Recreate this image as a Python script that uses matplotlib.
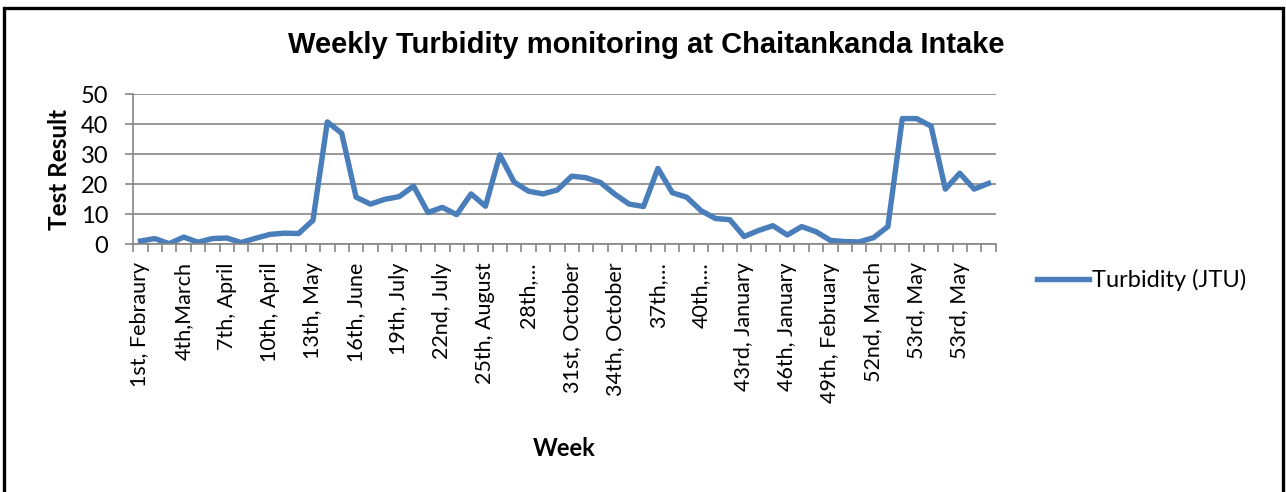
import matplotlib
matplotlib.use('Agg')
import matplotlib.pyplot as plt
from matplotlib.patches import Rectangle

weeks = list(range(60))
turbidity = [1.1, 1.9, 0.2, 2.4, 0.7, 1.9, 2.1, 0.6, 2.0, 3.3,
             3.7, 3.6, 8.0, 40.8, 37.0, 15.7, 13.4, 15.0, 15.9, 19.4,
             10.6, 12.3, 9.9, 16.8, 12.7, 29.8, 20.7, 17.7, 16.8, 18.1,
             22.7, 22.2, 20.6, 16.7, 13.4, 12.6, 25.3, 17.2, 15.7, 11.2,
             8.6, 8.2, 2.6, 4.6, 6.2, 3.1, 5.9, 4.2, 1.3, 0.9,
             0.8, 2.2, 5.9, 41.9, 41.9, 39.4, 18.4, 23.7, 18.4, 20.3]
label_pos = list(range(0, 60, 3))
week_labels = ['1st, Febraury', '4th,March', '7th, April', '10th, April', '13th, May',
               '16th, June', '19th, July', '22nd, July', '25th, August', '28th,\u2026',
               '31st, October', '34th, October', '37th,\u2026', '40th,\u2026', '43rd, January',
               '46th, January', '49th, February', '52nd, March', '53rd, May', '53rd, May']

W, H = 1286, 492
fig = plt.figure(figsize=(W / 100, H / 100), dpi=100)
fig.patches.append(Rectangle((3.5 / W, -0.05), 1279 / W, 1 - 7.5 / H + 0.05,
                             transform=fig.transFigure, fill=False,
                             edgecolor='black', linewidth=2.4))

ax = fig.add_axes([133.3 / W, 1 - 244.3 / H, 862.4 / W, 150 / H])
ax.plot(weeks, turbidity, color='#4A7EBB', linewidth=3.9,
        solid_joinstyle='round', label='Turbidity (JTU)')

gray = '#868686'
ax.set_xlim(-0.5, 59.5)
ax.set_ylim(0, 50)
ax.set_yticks(range(0, 51, 10))
ax.grid(axis='y', color=gray, linewidth=1.2)
ax.set_axisbelow(True)
for s in ['top', 'right']:
    ax.spines[s].set_visible(False)
for s in ['left', 'bottom']:
    ax.spines[s].set_color(gray)
    ax.spines[s].set_linewidth(1.2)

ax.set_xticks(label_pos)
ax.set_xticklabels(week_labels, rotation=90, fontsize=15.5, family='Lato')
ax.tick_params(axis='x', which='major', length=0, pad=13)
ax.set_xticks([i - 0.5 for i in range(61)], minor=True)
ax.tick_params(axis='x', which='minor', length=6, color=gray, width=1.2)
ax.tick_params(axis='y', length=6, color=gray, width=1.2, pad=12,
               labelsize=17)
for t in ax.get_yticklabels():
    t.set_family('Lato')

ax.set_ylabel('Test Result', fontsize=17.5, fontweight='bold', family='Lato')
ax.set_xlabel('Week', fontsize=17, fontweight='bold', family='Lato')
ax.xaxis.set_label_coords(0.5, -1.285)
ax.yaxis.set_label_coords(-0.072, 0.5)

fig.text(646 / W, 1 - 45 / H, 'Weekly Turbidity monitoring at Chaitankanda Intake',
         ha='center', va='center', fontsize=21, fontweight='bold',
         family='Liberation Sans')

ax.legend(loc='center left', bbox_to_anchor=(1.023, -0.238), frameon=False,
          prop={'family': 'Lato', 'size': 17}, handlelength=2.2, handletextpad=0.15)

fig.savefig('out.png', dpi=100)
